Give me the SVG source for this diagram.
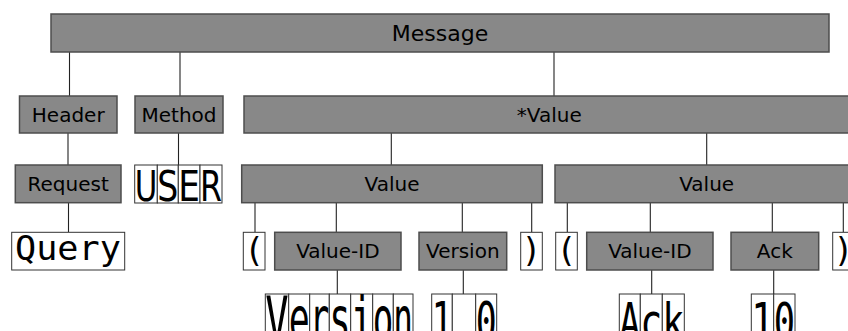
<svg xmlns="http://www.w3.org/2000/svg" width="848" height="331" viewBox="0 0 848 331">
<style>
.box{fill:#888888;stroke:#4d4d4d;stroke-width:1.5}
.cell{fill:#ffffff;stroke:#333333;stroke-width:1}
.lbl{font-family:"DejaVu Sans","Liberation Sans",sans-serif;font-size:20px;fill:#000000;text-anchor:middle}
.big{font-family:"DejaVu Sans","Liberation Sans",sans-serif;font-size:42.5px;fill:#000000}
.mono{font-family:"DejaVu Sans Mono","Liberation Mono",monospace;fill:#000000}
.conn line{stroke:#222222;stroke-width:1.1}
</style>
<rect width="848" height="331" fill="#ffffff"/>
<g class="conn" id="connectors">
<line x1="69.5" y1="52" x2="69.5" y2="96"/>
<line x1="180" y1="52" x2="180" y2="96"/>
<line x1="554" y1="52" x2="554" y2="96"/>
<line x1="68" y1="133" x2="68" y2="165"/>
<line x1="178.5" y1="133" x2="178.5" y2="165"/>
<line x1="68.5" y1="203" x2="68.5" y2="232"/>
<line x1="391.3" y1="133" x2="391.3" y2="165"/>
<line x1="706.7" y1="133" x2="706.7" y2="165"/>
<line x1="255" y1="203" x2="255" y2="232"/>
<line x1="336.3" y1="203" x2="336.3" y2="232"/>
<line x1="462.3" y1="203" x2="462.3" y2="232"/>
<line x1="531.7" y1="203" x2="531.7" y2="232"/>
<line x1="567.3" y1="203" x2="567.3" y2="232"/>
<line x1="650.3" y1="203" x2="650.3" y2="232"/>
<line x1="772.3" y1="203" x2="772.3" y2="232"/>
<line x1="843.3" y1="203" x2="843.3" y2="232"/>
<line x1="337.3" y1="270" x2="337.3" y2="294"/>
<line x1="463.3" y1="270" x2="463.3" y2="294"/>
<line x1="651.7" y1="270" x2="651.7" y2="294"/>
<line x1="773.7" y1="270" x2="773.7" y2="294"/>
</g>
<g id="message"><rect class="box" x="51" y="14" width="778" height="38"/><text class="lbl" x="440" y="40.5" style="font-size:22px">Message</text></g>
<g id="header"><rect class="box" x="19.5" y="96" width="97.5" height="37"/><text class="lbl" x="68.2" y="121.8">Header</text></g>
<g id="method"><rect class="box" x="135" y="96" width="88" height="37"/><text class="lbl" x="179" y="121.8">Method</text></g>
<g id="star-value"><rect class="box" x="244" y="96" width="610" height="37"/><text class="lbl" x="549.3" y="121.8">*Value</text></g>
<g id="request"><rect class="box" x="15.3" y="165" width="105.7" height="37.7"/><text class="lbl" x="68.2" y="190.8">Request</text></g>
<g id="user">
<rect class="cell" x="134.7" y="165" width="22.6" height="38"/>
<rect class="cell" x="157.3" y="165" width="21" height="38"/>
<rect class="cell" x="178.3" y="165" width="21.7" height="38"/>
<rect class="cell" x="200" y="165" width="22" height="38"/>
<text class="big" transform="translate(134.7 201) scale(0.727 1)">U</text>
<text class="big" transform="translate(157.3 201) scale(0.778 1)">S</text>
<text class="big" transform="translate(178.3 201) scale(0.807 1)">E</text>
<text class="big" transform="translate(200 201) scale(0.745 1)">R</text>
</g>
<g id="query"><rect class="cell" x="11.7" y="232.3" width="113" height="37.7"/><text class="mono" transform="translate(15 260) scale(1.05 1)" style="font-size:33.5px">Query</text></g>
<g id="value-1"><rect class="box" x="241.7" y="165" width="300.6" height="37.7"/><text class="lbl" x="392" y="190.8">Value</text></g>
<g id="value-2"><rect class="box" x="555" y="165" width="303" height="37.7"/><text class="lbl" x="706.7" y="190.8">Value</text></g>
<g id="lparen-1"><rect class="cell" x="243.3" y="232.3" width="21.7" height="37.7"/><text class="mono" x="254.2" y="262.4" style="font-size:33px;text-anchor:middle">(</text></g>
<g id="value-id-1"><rect class="box" x="274.7" y="232.3" width="126.3" height="37.7"/><text class="lbl" x="337.9" y="258.2">Value-ID</text></g>
<g id="version"><rect class="box" x="419" y="232.3" width="87.7" height="37.7"/><text class="lbl" x="462.8" y="258.2">Version</text></g>
<g id="rparen-1"><rect class="cell" x="520.7" y="232.3" width="21.6" height="37.7"/><text class="mono" x="531.5" y="262.4" style="font-size:33px;text-anchor:middle">)</text></g>
<g id="lparen-2"><rect class="cell" x="555.7" y="232.3" width="21.6" height="37.7"/><text class="mono" x="566.5" y="262.4" style="font-size:33px;text-anchor:middle">(</text></g>
<g id="value-id-2"><rect class="box" x="586.7" y="232.3" width="126.3" height="37.7"/><text class="lbl" x="649.9" y="258.2">Value-ID</text></g>
<g id="ack"><rect class="box" x="731" y="232.3" width="87.7" height="37.7"/><text class="lbl" x="774.8" y="258.2">Ack</text></g>
<g id="rparen-2"><rect class="cell" x="832.7" y="232.3" width="21.7" height="37.7"/><text class="mono" x="843.5" y="262.4" style="font-size:33px;text-anchor:middle">)</text></g>
<g id="literal-version" style="font-size:60px">
<rect class="cell" x="265.3" y="294" width="23.4" height="50"/>
<rect class="cell" x="288.7" y="294" width="21" height="50"/>
<rect class="cell" x="309.7" y="294" width="19.6" height="50"/>
<rect class="cell" x="329.3" y="294" width="21.4" height="50"/>
<rect class="cell" x="350.7" y="294" width="22" height="50"/>
<rect class="cell" x="372.7" y="294" width="20.6" height="50"/>
<rect class="cell" x="393.3" y="294" width="19.7" height="50"/>
<text class="mono" transform="translate(265.3 340) scale(0.648 1)">V</text>
<text class="mono" transform="translate(288.7 340) scale(0.581 1)">e</text>
<text class="mono" transform="translate(309.7 340) scale(0.543 1)">r</text>
<text class="mono" transform="translate(329.3 340) scale(0.592 1)">s</text>
<text class="mono" transform="translate(350.7 340) scale(0.609 1)">i</text>
<text class="mono" transform="translate(372.7 340) scale(0.570 1)">o</text>
<text class="mono" transform="translate(393.3 340) scale(0.545 1)">n</text>
</g>
<g id="literal-1-0" style="font-size:54px">
<rect class="cell" x="431.7" y="294" width="20.6" height="50"/>
<rect class="cell" x="452.3" y="294" width="23.4" height="50"/>
<rect class="cell" x="475.7" y="294" width="21" height="50"/>
<text class="mono" transform="translate(431.7 340) scale(0.634 1)">1</text>
<text class="mono" transform="translate(452.3 340) scale(0.720 1)">.</text>
<text class="mono" transform="translate(475.7 340) scale(0.646 1)">0</text>
</g>
<g id="literal-ack" style="font-size:52px">
<rect class="cell" x="619.3" y="294" width="21" height="50"/>
<rect class="cell" x="640.3" y="294" width="22" height="50"/>
<rect class="cell" x="662.3" y="294" width="22" height="50"/>
<text class="mono" transform="translate(619.3 340) scale(0.671 1)">A</text>
<text class="mono" transform="translate(640.3 340) scale(0.703 1)">c</text>
<text class="mono" transform="translate(662.3 340) scale(0.703 1)">k</text>
</g>
<g id="literal-10" style="font-size:52px">
<rect class="cell" x="751.3" y="294" width="22.4" height="50"/>
<rect class="cell" x="773.7" y="294" width="21.3" height="50"/>
<text class="mono" transform="translate(751.3 340) scale(0.716 1)">1</text>
<text class="mono" transform="translate(773.7 340) scale(0.681 1)">0</text>
</g>
</svg>
